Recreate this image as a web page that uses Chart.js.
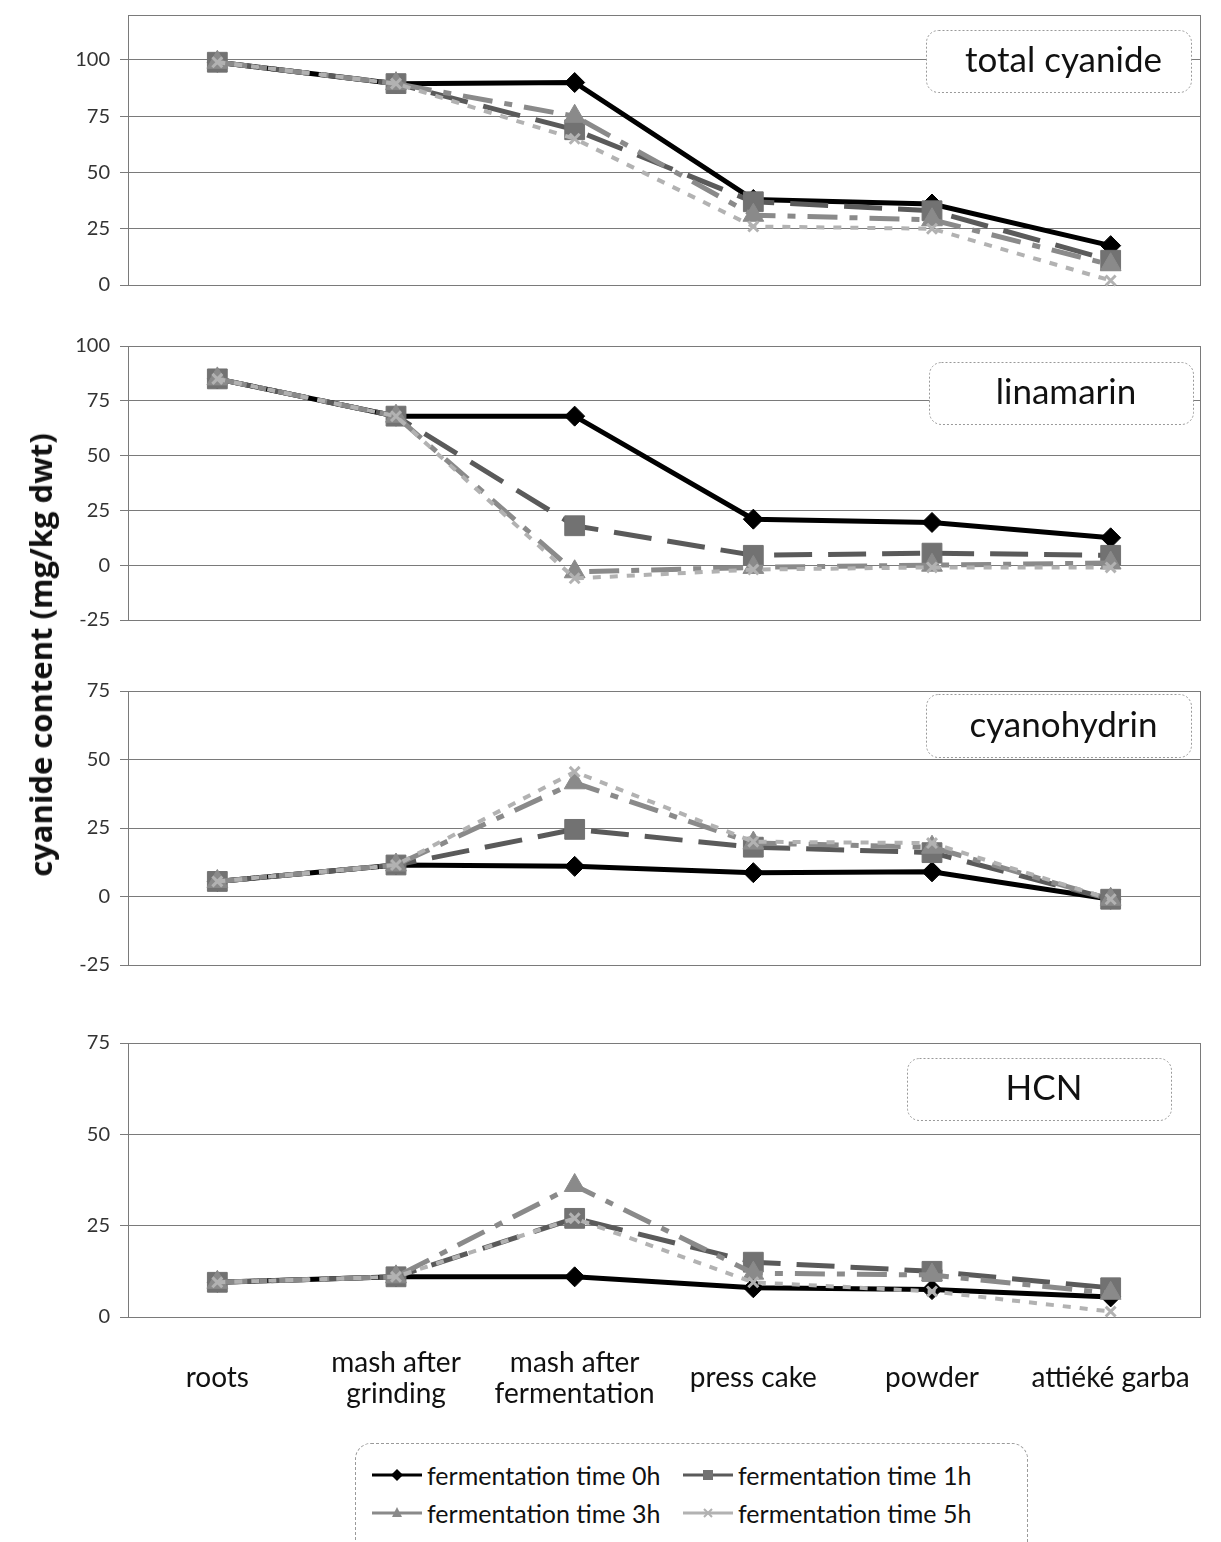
<!DOCTYPE html>
<html>
<head>
<meta charset="utf-8">
<script src="https://cdn.jsdelivr.net/npm/chart.js@4.4.1/dist/chart.umd.min.js"></script>
<style>
  body { margin: 0; background: #fff; }
  #wrap { position: relative; width: 1221px; height: 1542px; overflow: hidden; font-family: Lato, "Open Sans", sans-serif; }
  canvas { position: absolute; left: 0; }
  #ytitle {
    position: absolute; left: 40px; top: 655px;
    transform: translate(-50%, -50%) rotate(-90deg);
    white-space: nowrap; font-family: "Open Sans", sans-serif; font-weight: bold;
    font-size: 31px; color: #111;
  }
  #legend {
    position: absolute; left: 355px; top: 1443px; width: 673px; height: 130px;
    border: 1px dashed #9a9a9a; border-radius: 16px; box-sizing: border-box;
  }
  #legend .item { position: absolute; display: flex; align-items: center; font-size: 25px; color: #111; }
  #legend svg { margin-right: 5px; }
</style>
</head>
<body>
<div id="wrap">
  <canvas id="c1" width="1221" height="300" style="top:0px"></canvas>
  <canvas id="c2" width="1221" height="305" style="top:330px"></canvas>
  <canvas id="c3" width="1221" height="305" style="top:675px"></canvas>
  <canvas id="c4" width="1221" height="400" style="top:1027px"></canvas>
  <div id="ytitle">cyanide content (mg/kg dwt)</div>
  <div id="legend"></div>
</div>
<script>
// categories on the x axis
const categories = ["roots", ["mash after", "grinding"], ["mash after", "fermentation"], "press cake", "powder", "attiéké garba"];
const seriesNames = ["fermentation time 0h", "fermentation time 1h", "fermentation time 3h", "fermentation time 5h"];

// total cyanide
const total0h = [99, 89.5, 90, 38, 36, 17.5];
const total1h = [99, 89.5, 69, 37, 33, 11];
const total3h = [99, 89.5, 75, 31, 29, 9];
const total5h = [99, 89.5, 65, 26, 25, 2];

// linamarin
const lin0h = [85, 68, 68, 21, 19.5, 12.5];
const lin1h = [85, 68, 18, 4.5, 5.5, 4.5];
const lin3h = [85, 68, -3, -1, 0, 1];
const lin5h = [85, 68, -6, -2, -1, -1];

// cyanohydrin
const cyh0h = [5.5, 11.5, 11, 8.7, 9, -1];
const cyh1h = [5.5, 11.5, 24.5, 18, 16, -1];
const cyh3h = [5.5, 11.5, 41.5, 19.5, 18, -1];
const cyh5h = [5.5, 11.5, 45.5, 20, 19.5, -1];

// HCN
const hcn0h = [9.5, 11, 11, 8, 7.5, 5.5];
const hcn1h = [9.5, 11, 27, 15, 12.5, 8];
const hcn3h = [9.5, 11, 36, 12, 11.5, 6.5];
const hcn5h = [9.5, 11, 27, 9.5, 7, 1.5];

// y axis ranges and ticks
const yMin = [0, -25, -25, 0];
const yMax = [120, 100, 75, 75];
const yStep = 25;

const styles = [
  { line: "#000000", fill: "#000000", dash: [], point: "rectRot", radius: 10, width: 5 },
  { line: "#5a5a5a", fill: "#727272", dash: [38, 16], point: "rect", radius: 14, width: 5 },
  { line: "#8a8a8a", fill: "#8a8a8a", dash: [30, 12, 8, 12], point: "triangle", radius: 12, width: 5 },
  { line: "#b2b2b2", fill: "#b2b2b2", dash: [8, 9], point: "crossRot", radius: 7, width: 4 }
];

const gridColor = "#7a7a7a";

const boxPlugin = {
  id: "panelBox",
  beforeDatasetsDraw(chart, args, opts) {
    const ctx = chart.ctx;
    const a = chart.chartArea;
    ctx.save();
    ctx.strokeStyle = gridColor;
    ctx.lineWidth = 1;
    ctx.strokeRect(a.left + 0.5, a.top + 0.5, a.right - a.left, a.bottom - a.top);
    const b = opts.box;
    ctx.beginPath();
    ctx.roundRect(b[0] + 0.5, b[1] + 0.5, b[2] - b[0], b[3] - b[1], 12);
    ctx.fillStyle = "#fff";
    ctx.fill();
    ctx.setLineDash([2, 2]);
    ctx.strokeStyle = "#999";
    ctx.stroke();
    ctx.setLineDash([]);
    ctx.fillStyle = "#111";
    ctx.font = "35px Lato, 'Open Sans', sans-serif";
    ctx.textAlign = "center";
    ctx.textBaseline = "middle";
    ctx.fillText(opts.title, (b[0] + b[2]) / 2 + 5, (b[1] + b[3]) / 2);
    ctx.restore();
  }
};

function makeDatasets(series) {
  return series.map((vals, i) => {
    const s = styles[i];
    return {
      label: seriesNames[i],
      data: vals,
      borderColor: s.line,
      borderWidth: s.width,
      borderDash: s.dash,
      pointStyle: s.point,
      pointRadius: s.radius,
      pointBackgroundColor: s.fill,
      pointBorderColor: s.fill,
      pointBorderWidth: s.point === "crossRot" ? 3 : 1,
      tension: 0,
      clip: false,
      order: 4 - i
    };
  });
}

function makeChart(id, series, idx, title, box, padTop, padBottom, showX) {
  const ctx = document.getElementById(id).getContext("2d");
  return new Chart(ctx, {
    type: "line",
    data: { labels: categories, datasets: makeDatasets(series) },
    plugins: [boxPlugin],
    options: {
      responsive: false,
      animation: false,
      layout: { padding: { top: padTop, right: 21, bottom: padBottom, left: 0 } },
      plugins: {
        legend: { display: false },
        tooltip: { enabled: false },
        panelBox: { title: title, box: box }
      },
      scales: {
        x: {
          display: showX,
          offset: true,
          grid: { display: false },
          border: { display: false },
          ticks: {
            color: "#111",
            padding: 38,
            maxRotation: 0,
            autoSkip: false,
            crossAlign: "center",
            font: { family: "Lato, 'Open Sans', sans-serif", size: 28, lineHeight: 1.1 }
          },
          afterFit: scale => {
            scale.height = showX ? 110 : 0;
            scale.paddingLeft = 0;
            scale.paddingRight = 0;
          }
        },
        y: {
          min: yMin[idx],
          max: yMax[idx],
          grid: { color: gridColor, tickColor: gridColor, tickLength: 8, drawTicks: true },
          border: { display: false },
          ticks: {
            stepSize: yStep,
            color: "#333",
            padding: 10,
            font: { family: "Lato, 'Open Sans', sans-serif", size: 20 }
          },
          afterBuildTicks: scale => {
            scale.ticks = scale.ticks.filter(t => t.value % yStep === 0);
          },
          afterFit: scale => {
            scale.width = 128;
            scale.paddingTop = 0;
            scale.paddingBottom = 0;
          }
        }
      }
    }
  });
}

makeChart("c1", [total0h, total1h, total3h, total5h], 0, "total cyanide", [926, 30, 1191, 92], 12, 11, false);
makeChart("c2", [lin0h, lin1h, lin3h, lin5h], 1, "linamarin", [929, 32, 1193, 94], 16, 14, false);
makeChart("c3", [cyh0h, cyh1h, cyh3h, cyh5h], 2, "cyanohydrin", [926, 19, 1191, 82], 16, 14, false);
makeChart("c4", [hcn0h, hcn1h, hcn3h, hcn5h], 3, "HCN", [907, 31, 1171, 93], 16, 0, true);

// legend
function markerSvg(s) {
  const cx = 25, cy = 10;
  let shape = "";
  if (s.point === "rectRot") shape = `<polygon points="${cx},${cy - 6} ${cx + 6},${cy} ${cx},${cy + 6} ${cx - 6},${cy}" fill="${s.fill}"/>`;
  else if (s.point === "rect") shape = `<rect x="${cx - 5}" y="${cy - 5}" width="10" height="10" fill="${s.fill}"/>`;
  else if (s.point === "triangle") shape = `<polygon points="${cx},${cy - 6} ${cx + 5},${cy + 4} ${cx - 5},${cy + 4}" fill="${s.fill}"/>`;
  else shape = `<path d="M${cx - 4} ${cy - 4} L${cx + 4} ${cy + 4} M${cx + 4} ${cy - 4} L${cx - 4} ${cy + 4}" stroke="${s.fill}" stroke-width="2"/>`;
  return `<svg width="50" height="20"><line x1="0" y1="${cy}" x2="50" y2="${cy}" stroke="${s.line}" stroke-width="3"/>${shape}</svg>`;
}
const legend = document.getElementById("legend");
const legendPos = [[16, 16], [327, 16], [16, 54], [327, 54]];
seriesNames.forEach((name, i) => {
  const d = document.createElement("div");
  d.className = "item";
  d.style.left = legendPos[i][0] + "px";
  d.style.top = legendPos[i][1] + "px";
  d.innerHTML = markerSvg(styles[i]) + "<span>" + name + "</span>";
  legend.appendChild(d);
});
</script>
</body>
</html>
